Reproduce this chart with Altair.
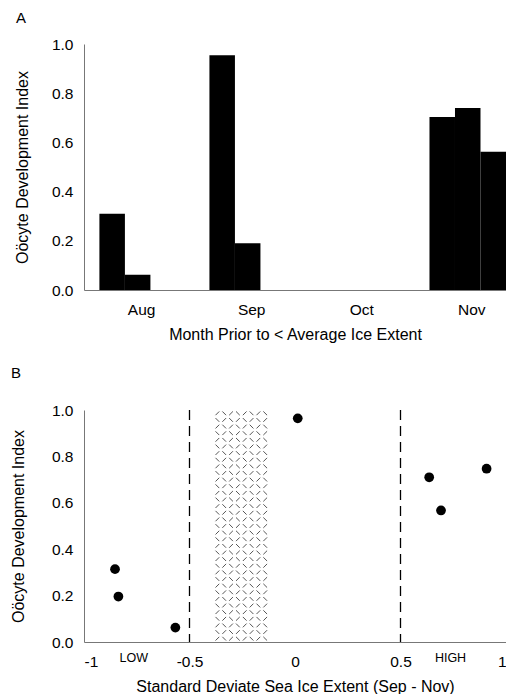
import altair as alt
import pandas as pd

FONT = "Liberation Sans"

# ---- Panel A data ----
months = ["Aug", "Sep", "Oct", "Nov"]
bar_month = ["Aug", "Aug", "Sep", "Sep", "Nov", "Nov", "Nov"]
bar_slot = [0, 1, 0, 1, 0, 1, 2]
bar_value = [0.31, 0.062, 0.954, 0.19, 0.703, 0.74, 0.562]

# ---- Panel B data ----
ice_sd = [-0.853, -0.837, -0.567, 0.013, 0.636, 0.692, 0.908]
ice_odi = [0.314, 0.196, 0.062, 0.964, 0.71, 0.567, 0.747]
thresholds = [-0.5, 0.5]
shade_range = [-0.384, -0.125]
class_labels = ["LOW", "HIGH"]
class_x = [-0.764, 0.737]

y_ticks = [0, 0.2, 0.4, 0.6, 0.8, 1.0]
x_ticks_b = [-1, -0.5, 0, 0.5, 1]

W = 422
HA = 246
HB = 232

bars = pd.DataFrame({"month": bar_month, "slot": bar_slot, "value": bar_value})

panel_a = alt.Chart(
    bars,
    title=alt.TitleParams("A", anchor="start", frame="group", dx=-68, offset=11,
                          fontSize=15, fontWeight="normal", font=FONT, color="black"),
).mark_bar(color="black").encode(
    x=alt.X("month:N", sort=months,
            scale=alt.Scale(domain=months, paddingInner=0.3045, paddingOuter=0.07, align=1),
            axis=alt.Axis(title="Month Prior to < Average Ice Extent", labelAngle=0, ticks=False,
                          labelPadding=12, titlePadding=9, labelOffset=4)),
    xOffset=alt.XOffset("slot:N", scale=alt.Scale(domain=[0, 1, 2], paddingInner=0, paddingOuter=0)),
    y=alt.Y("value:Q", scale=alt.Scale(domain=[0, 1], nice=False),
            axis=alt.Axis(title="Oöcyte Development Index", values=y_ticks, format=".1f",
                          ticks=False, grid=False, labelPadding=11, titlePadding=21)),
).properties(width=W, height=HA)

xb = alt.X("sd:Q", scale=alt.Scale(domain=[-1, 1], nice=False, zero=False),
           axis=alt.Axis(title="Standard Deviate Sea Ice Extent (Sep - Nov)", values=x_ticks_b,
                         labelExpr="toString(datum.value)", ticks=False, grid=False,
                         labelPadding=12, titlePadding=9))
yb = alt.Y("odi:Q", scale=alt.Scale(domain=[0, 1], nice=False),
           axis=alt.Axis(title="Oöcyte Development Index", values=y_ticks, format=".1f",
                         ticks=False, grid=False, labelPadding=11, titlePadding=24.5))

x0, x1 = shade_range
hatch = alt.Chart(alt.sequence(0, 280, as_="i")).transform_calculate(
    col="datum.i % 8", row="floor(datum.i / 8)"
).transform_calculate(
    sd=f"{x0} + ({x1} - ({x0})) * (datum.col + 0.5) / 8",
    odi="(datum.row + 0.5) / 35",
    dir="(datum.col + datum.row) % 2 == 0 ? 'a' : 'b'",
).mark_point(filled=False, strokeWidth=1, color="#555555", size=14, opacity=1).encode(
    x=xb, y=yb,
    shape=alt.Shape("dir:N", scale=alt.Scale(domain=["a", "b"], range=["M-1,1L1,-1", "M-1,-1L1,1"]),
                    legend=None),
)

rules = alt.Chart(pd.DataFrame({"sd": thresholds})).mark_rule(
    color="black", strokeDash=[10, 6], strokeWidth=1.3
).encode(x=xb)

points = alt.Chart(pd.DataFrame({"sd": ice_sd, "odi": ice_odi})).mark_point(
    filled=True, color="black", size=95, opacity=1
).encode(x=xb, y=yb)

labels = alt.Chart(pd.DataFrame({"sd": class_x, "label": class_labels})).mark_text(
    fontSize=12.5, font=FONT, baseline="middle", color="black"
).encode(x=xb, y=alt.value(HB + 15.7), text="label:N")

panel_b = alt.layer(
    hatch, rules, points, labels,
    title=alt.TitleParams("B", anchor="start", frame="group", dx=-73, offset=22.5,
                          fontSize=15, fontWeight="normal", font=FONT, color="black"),
).properties(width=W, height=HB)

chart = alt.concat(panel_a, panel_b, columns=1, spacing=22, align="none").properties(
    padding={"left": 2, "top": 3, "right": 0, "bottom": 0}
).configure_view(stroke=None).configure_axis(
    domainColor="#777777", domainWidth=1, labelFont=FONT, titleFont=FONT,
    labelFontSize=15.5, titleFontSize=16, titleFontWeight="normal",
    labelColor="black", titleColor="black",
)

chart.save("out.html", embed_options={"renderer": "svg", "actions": False})
